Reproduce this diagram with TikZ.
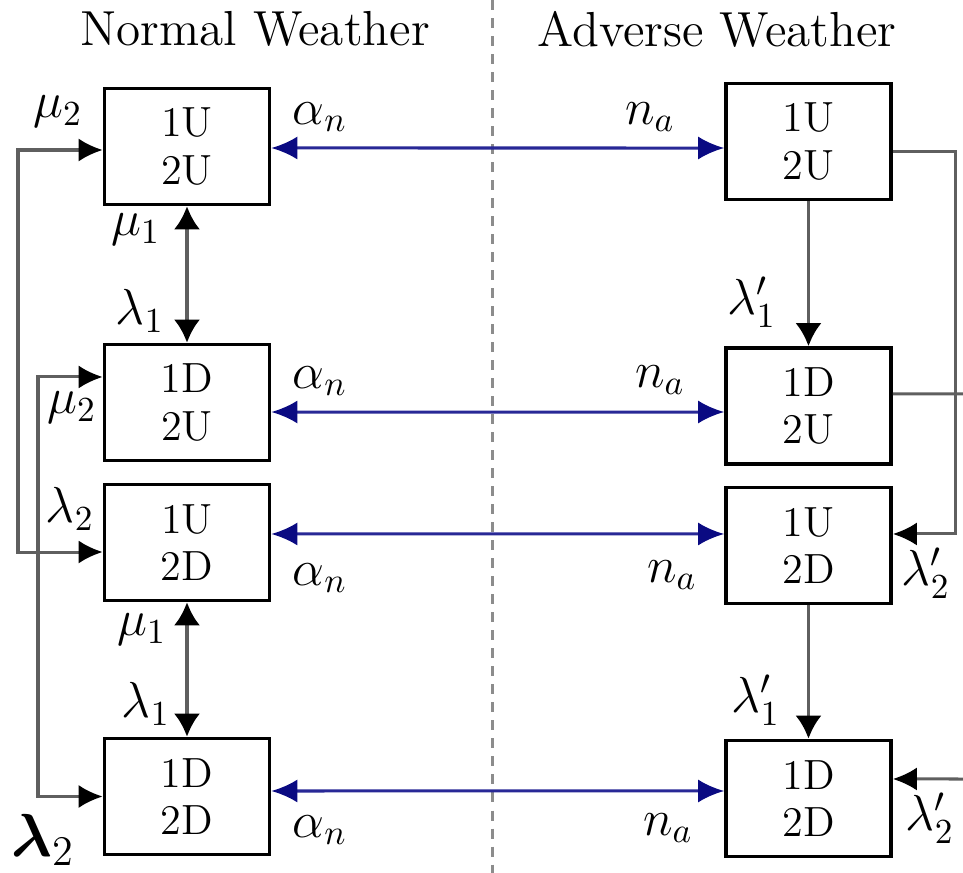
\documentclass[tikz,border=0pt]{standalone}
\usepackage{amssymb, amsmath}
\usepackage{tikz}
\usetikzlibrary{arrows.meta}
\definecolor{rate}{RGB}{40, 40, 150}
\definecolor{ratehead}{RGB}{10, 10, 130}
\definecolor{feed}{RGB}{95, 95, 95}
\definecolor{divider}{RGB}{140, 140, 140}

\begin{document}
\begin{tikzpicture}[x=0.01cm, y=-0.01cm,
  Btip/.tip={Latex[length=0.26cm, width=0.23cm, color=ratehead]},
  Ftip/.tip={Latex[length=0.24cm, width=0.23cm, color=black]},
  Vtip/.tip={Latex[length=0.23cm, width=0.26cm, color=black]},
  state/.style={draw, line width=0.035cm, minimum width=1.65cm, minimum height=1.16cm,
    inner sep=0, align=center, font=\fontsize{12}{13.5}\selectfont},
  lbl/.style={inner sep=0, font=\fontsize{14}{16}\selectfont},
  head/.style={font=\fontsize{14}{17}\selectfont},
  blink/.style={rate, line width=0.03cm, Btip-Btip},
  glink/.style={feed, line width=0.03cm},
  vlink/.style={feed, line width=0.035cm}]

  \useasboundingbox (0, 0) rectangle (963, 873);

  % headings and divider
  \node[head] (normal) at (255, 29) {Normal Weather};
  \node[head] (adverse) at (717, 29) {Adverse Weather};
  \draw[divider, line width=0.03cm, dash pattern=on 0.1cm off 0.08cm] (492, 0) -- (492, 873);

  % states
  \node[state] (n1) at (187, 146.5) {1U\\2U};
  \node[state] (n2) at (187, 402.5) {1D\\2U};
  \node[state] (n3) at (187, 542.5) {1U\\2D};
  \node[state] (n4) at (187, 796.5) {1D\\2D};

  \node[state] (a1) at (808.5, 141.5) {1U\\2U};
  \node[state] (a2) at (808.5, 406) {1D\\2U};
  \node[state] (a3) at (808.5, 545.5) {1U\\2D};
  \node[state] (a4) at (808.5, 798.5) {1D\\2D};

  % weather changes
  \draw[blink] ([yshift=-0.015cm]n1.east) -- ([yshift=-0.065cm]a1.west);
  \draw[blink] ([yshift=-0.095cm]n2.east) -- ([yshift=-0.06cm]a2.west);
  \draw[blink] ([yshift=0.085cm]n3.east) -- ([yshift=0.115cm]a3.west);
  \draw[blink] ([yshift=0.055cm]n4.east) -- ([yshift=0.075cm]a4.west);

  % normal weather transitions
  \draw[vlink, Vtip-Vtip] (n1.south) -- (n2.north);
  \draw[vlink, Vtip-Vtip] (n3.south) -- (n4.north);
  \draw[glink, Ftip-Ftip] ([yshift=-0.095cm]n3.west) -| (18, 350) |- ([yshift=-0.035cm]n1.west);
  \draw[glink, Ftip-Ftip] ([yshift=0.255cm]n2.west) -| (38, 600) |- (n4.west);

  % adverse weather transitions
  \coordinate (wrapout) at (963, 394);
  \coordinate (wrapin) at (963, 779);
  \draw[vlink, -Vtip] (a1.south) -- (a2.north);
  \draw[vlink, -Vtip] (a3.south) -- (a4.north);
  \draw[glink, -Ftip] ([yshift=-0.095cm]a1.east) -| (955, 350) |- ([yshift=0.115cm]a3.east);
  \draw[glink] ([yshift=0.12cm]a2.east) -- (wrapout);
  \draw[glink, -Ftip] (wrapin) -- ([yshift=0.195cm]a4.east);

  % rates
  \node[lbl] (mutop) at (58, 112) {$\mu_2$};
  \node[lbl] (muone) at (136, 230) {$\mu_1$};
  \node[lbl] (laone) at (140, 311) {$\lambda_1$};
  \node[lbl] (mumid) at (72, 408) {$\mu_2$};
  \node[lbl] (lamid) at (70, 509) {$\lambda_2$};
  \node[lbl] (mutwo) at (142, 630) {$\mu_1$};
  \node[lbl] (latwo) at (146, 704) {$\lambda_1$};
  \node[lbl, font=\fontsize{17}{19}\selectfont] (labot) at (43, 840) {$\boldsymbol{\lambda}_2$};

  \node[lbl] (alone) at (320, 117) {$\alpha_n$};
  \node[lbl] (altwo) at (320, 381) {$\alpha_n$};
  \node[lbl] (althree) at (320, 578) {$\alpha_n$};
  \node[lbl] (alfour) at (320, 830) {$\alpha_n$};
  \node[lbl] (naone) at (650, 117) {$n_a$};
  \node[lbl] (natwo) at (660, 380) {$n_a$};
  \node[lbl] (nathree) at (672, 575) {$n_a$};
  \node[lbl] (nafour) at (668, 828) {$n_a$};

  \node[lbl] (lpone) at (752, 302) {$\lambda'_1$};
  \node[lbl] (lptwo) at (926, 573) {$\lambda'_2$};
  \node[lbl] (lpthree) at (756, 700) {$\lambda'_1$};
  \node[lbl] (lpfour) at (930, 818) {$\lambda'_2$};

\end{tikzpicture}
\end{document}
